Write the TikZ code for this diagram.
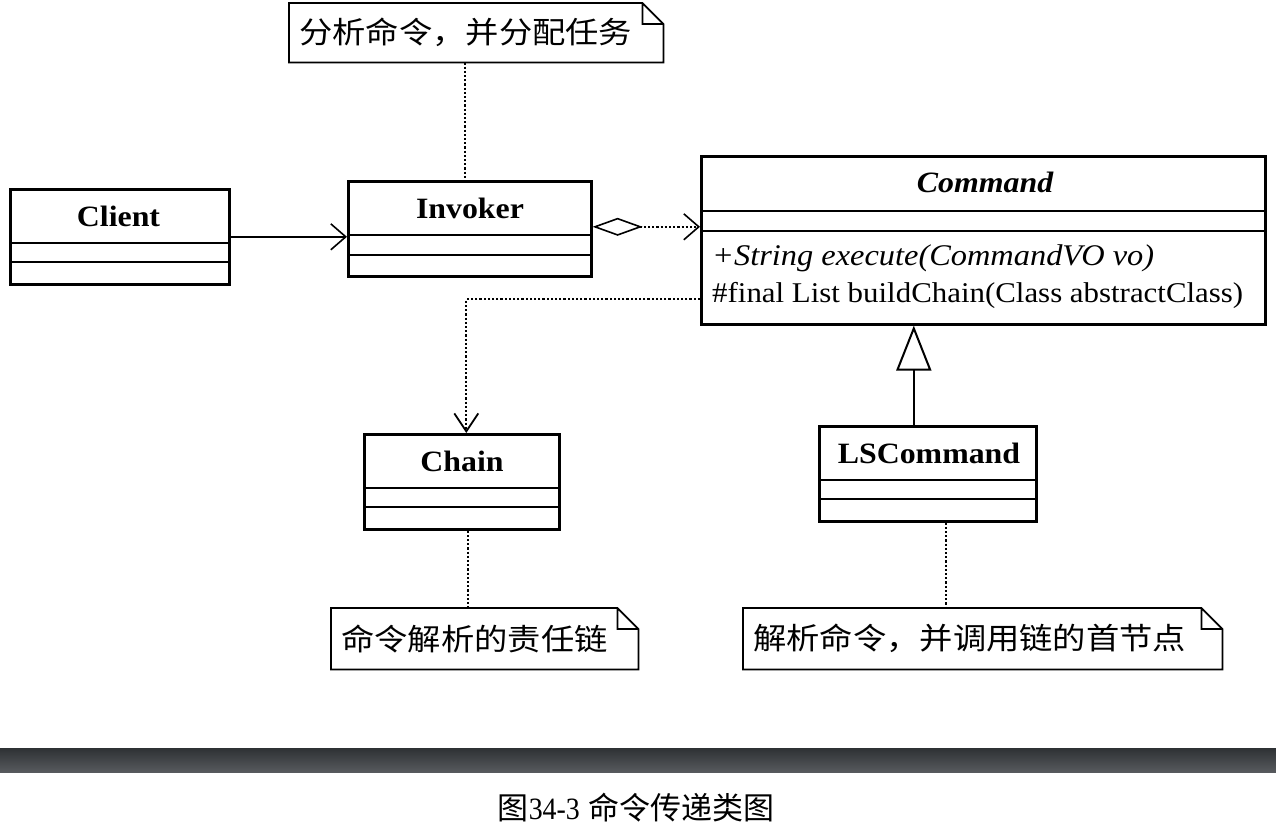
\documentclass[tikz,border=0pt]{standalone}
\usepackage{fontspec}
\setmainfont{Liberation Serif}[FakeStretch=1.08]
\newfontfamily\cjk{Noto Sans CJK SC}[FakeStretch=1.11]
\newfontfamily\cjkcap{Noto Sans CJK SC}
\newfontfamily\capserif{Liberation Serif}[FakeStretch=0.9]
\usetikzlibrary{arrows.meta}
\definecolor{bartop}{HTML}{2E3134}
\definecolor{barbot}{HTML}{575A5E}
\newcommand\notebox[1]{%
  \draw[notel] (#1.north west) -- ([xshift=-21pt]#1.north east) -- ([yshift=-21pt]#1.north east)
    -- (#1.south east) -- (#1.south west) -- cycle
    ([xshift=-21pt]#1.north east) -- ([xshift=-21pt,yshift=-21pt]#1.north east) -- ([yshift=-21pt]#1.north east);}
\begin{document}
\begin{tikzpicture}[x=1pt,y=-1pt,
  cls/.style={draw, line width=2.6pt, anchor=north west, inner sep=0pt},
  cname/.style={font=\fontsize{29.5}{30}\selectfont\bfseries},
  member/.style={anchor=west, inner sep=0pt, font=\fontsize{28.6}{30}\selectfont},
  divl/.style={line width=2.6pt},
  notel/.style={line width=1.8pt},
  notetext/.style={anchor=north west, inner xsep=10pt, inner ysep=0pt, align=left, font=\cjk\fontsize{30}{30}\selectfont},
  dotl/.style={dotted, line width=2.2pt},
  barb/.style={-{Straight Barb[length=15pt,width=26pt,line width=1.6pt]}}
]
\useasboundingbox[fill=white] (0,0) rectangle (1276,836);

% Classes
\node[cls, minimum width=219pt, minimum height=95pt] (client) at (9,188) {};
\node[cname] (clientname) at (118.5,216) {Client};
\draw[divl] (9,243) -- (228,243) (9,262) -- (228,262);

\node[cls, minimum width=243pt, minimum height=95pt] (invoker) at (347,180) {};
\node[cname] (invokername) at (470,208) {Invoker};
\draw[divl] (347,235) -- (590,235) (347,255) -- (590,255);

\node[cls, minimum width=564pt, minimum height=168pt] (cmd) at (700,155) {};
\node[cname, font=\fontsize{29.5}{30}\selectfont\bfseries\itshape] (cmdname) at (985,182) {Command};
\draw[divl] (700,211) -- (1264,211) (700,231) -- (1264,231);
\node[member, font=\fontsize{30}{30}\selectfont\itshape] (m1) at (712,258) {+String execute(CommandVO vo)};
\node[member] (m2) at (712,295) {\#final List buildChain(Class abstractClass)};

\node[cls, minimum width=195pt, minimum height=95pt] (chain) at (363,433) {};
\node[cname] (chainname) at (462,461) {Chain};
\draw[divl] (363,488) -- (558,488) (363,507) -- (558,507);

\node[cls, minimum width=217pt, minimum height=95pt] (ls) at (818,425) {};
\node[cname] (lsname) at (929,453) {LSCommand};
\draw[divl] (818,480) -- (1035,480) (818,499) -- (1035,499);

% Notes
\node[notetext, text width=354pt, minimum height=59pt] (n1) at (289,3) {分析命令，并分配任务};
\notebox{n1}
\node[notetext, text width=287pt, minimum height=61pt] (n2) at (331,608) {命令解析的责任链};
\notebox{n2}
\node[notetext, text width=459pt, minimum height=61pt] (n3) at (743,608) {解析命令，并调用链的首节点};
\notebox{n3}

% Connectors
\draw[line width=1.6pt, barb] (client.east) -- (client.east -| invoker.west);
\draw[dotl, {Diamond[open,length=50pt,width=18pt,line width=1.6pt]}-{Straight Barb[length=15pt,width=26pt,line width=1.6pt]}]
  ([yshift=2pt]invoker.east) -- ([yshift=2pt]invoker.east -| cmd.west);
\draw[dotl, -{Straight Barb[length=18pt,width=24pt,line width=1.8pt]}] ([yshift=-59pt]cmd.west) -| ([xshift=4.5pt]chain.north);
\draw[line width=2.6pt, -{Triangle[open,length=45pt,width=35pt,line width=2pt]}]
  ([xshift=-14pt]ls.north) -- ([xshift=-14pt]ls.north |- cmd.south);
\draw[dotl] ([xshift=-11pt]n1.south) -- ([xshift=-11pt]n1.south |- invoker.north);
\draw[dotl] ([xshift=6.5pt]chain.south) -- ([xshift=6.5pt]chain.south |- n2.north);
\draw[dotl] ([xshift=18.5pt]ls.south) -- ([xshift=18.5pt]ls.south |- n3.north);

% Bar and caption
\shade[top color=bartop, bottom color=barbot] (0,748) rectangle (1276,772);
\node[font=\fontsize{31}{31}\selectfont] (caption) at (636,808) {{\cjkcap 图}{\capserif 34-3} {\cjkcap 命令传递类图}};
\end{tikzpicture}
\end{document}
